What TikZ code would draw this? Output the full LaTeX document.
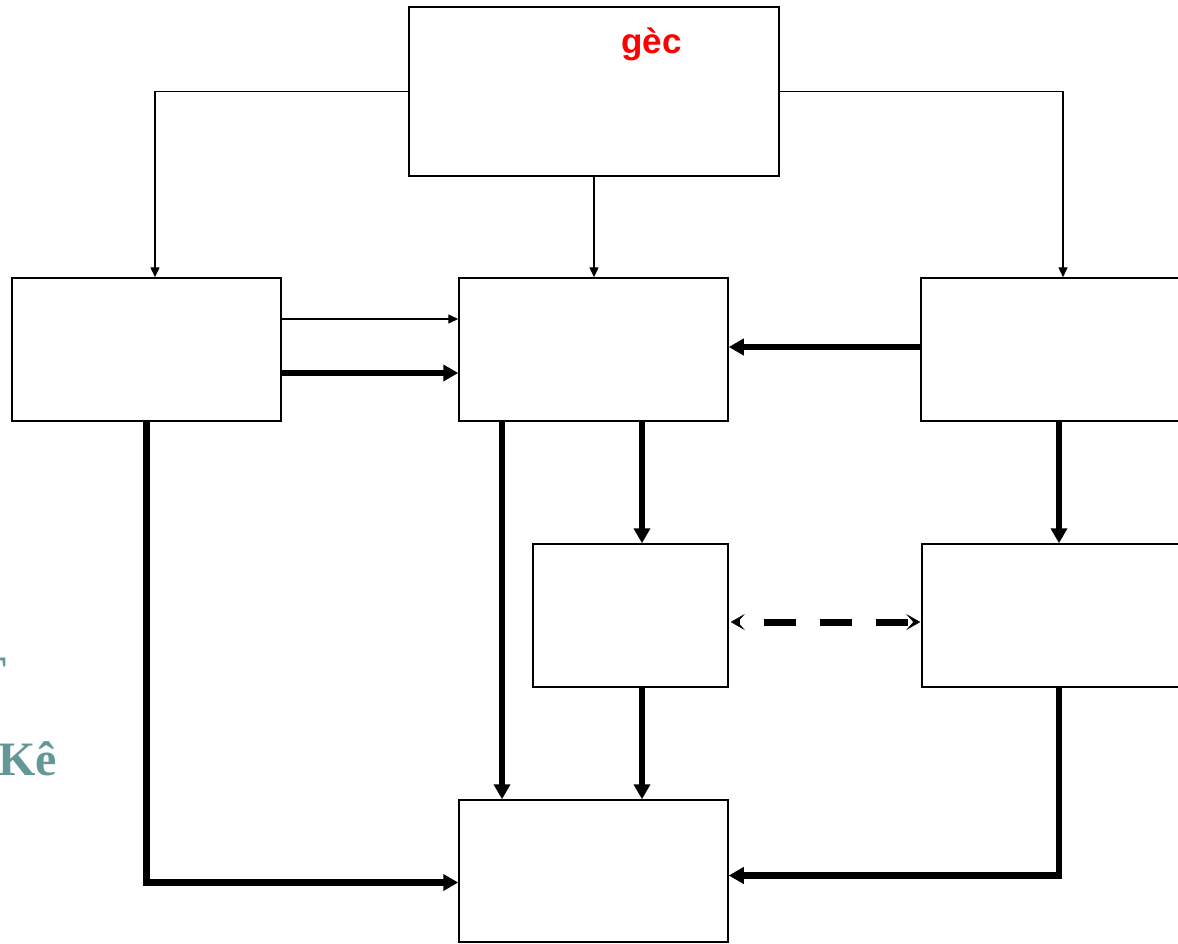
\documentclass[tikz,border=0pt]{standalone}
\usepackage{fontspec}
\setmainfont{Liberation Serif}
\newfontfamily\sansb{Liberation Sans}
\usetikzlibrary{arrows.meta}
\definecolor{tealtxt}{RGB}{98,153,152}
\tikzset{
  box/.style={draw=black, line width=1.5pt, fill=white, rectangle, inner sep=0pt, minimum width=269pt, minimum height=143pt},
  thinarrow/.style={line width=1.4pt, -{Triangle[length=10pt,width=9pt]}},
  thickarrow/.style={line width=6.5pt, -{Triangle[length=15pt,width=16pt]}},
  dasharrow/.style={line width=7pt, dash pattern=on 32pt off 24pt, dash phase=-26pt,
     {Stealth[length=14pt,width=16pt,inset=7pt,line width=0.5pt]}-{Stealth[length=14pt,width=16pt,inset=7pt,line width=0.5pt]}},
  sidetext/.style={text=tealtxt, font=\fontsize{48}{56}\selectfont\bfseries, inner sep=0pt}
}
\begin{document}
\begin{tikzpicture}[x=1pt,y=-1pt]
\useasboundingbox (0,0) rectangle (1178,943);
\clip (0,0) rectangle (1178,943);
\fill[white] (0,0) rectangle (1178,943);
% boxes
\node[box, minimum width=370pt, minimum height=169pt] (top) at (594,91.5) {};
\node[box] (left) at (146.5,349.5) {};
\node[box] (mid) at (593.5,349.5) {};
\node[box] (right) at (1055.5,349.5) {};
\node[box, minimum width=195pt] (midlow) at (630.5,615.5) {};
\node[box] (rightlow) at (1056.5,615.5) {};
\node[box, minimum height=142pt] (bottom) at (593.5,871) {};
% texts
\node[text=red, font=\sansb\fontsize{35}{40}\selectfont\bfseries, inner sep=0pt, anchor=base west] (goc) at (621,53) {gèc};
\node[sidetext, anchor=base east] (t1) at (7,689) {T};
\node[sidetext, anchor=base east] (t2) at (57,775) {Kê};
% thin connectors from top box
\draw[thinarrow] (top.west) -| ([xshift=8.5pt]left.north);
\draw[thinarrow] (top.east) -| ([xshift=7.5pt]right.north);
\draw[thinarrow] (top.south) -- (top.south |- mid.north);
% left to mid
\draw[thinarrow] ([yshift=30.5pt]left.east) -- ([yshift=30.5pt]mid.west);
\draw[thickarrow] ([yshift=-23.5pt]left.east) -- ([yshift=-23.5pt]mid.west);
% right to mid
\draw[thickarrow] ([yshift=2.5pt]right.west) -- ([yshift=2.5pt]mid.east);
% mid downwards
\draw[thickarrow] ([xshift=-91.5pt]mid.south) -- ([xshift=-91.5pt]bottom.north);
\draw[thickarrow] ([xshift=48.5pt]mid.south) -- ([xshift=48.5pt]mid.south |- midlow.north);
\draw[thickarrow] ([xshift=11.5pt]midlow.south) -- ([xshift=11.5pt]midlow.south |- bottom.north);
% right down
\draw[thickarrow] ([xshift=3.5pt]right.south) -- ([xshift=3.5pt]right.south |- rightlow.north);
\draw[thickarrow] ([xshift=2.5pt]rightlow.south) |- ([yshift=-4.5pt]bottom.east);
% left down
\draw[thickarrow] (left.south) |- ([yshift=-11.5pt]bottom.west);
% dashed double arrow
\draw[dasharrow] ([xshift=2pt,yshift=-6.5pt]midlow.east) -- ([xshift=-1pt,yshift=-6.5pt]rightlow.west);
\end{tikzpicture}
\end{document}
